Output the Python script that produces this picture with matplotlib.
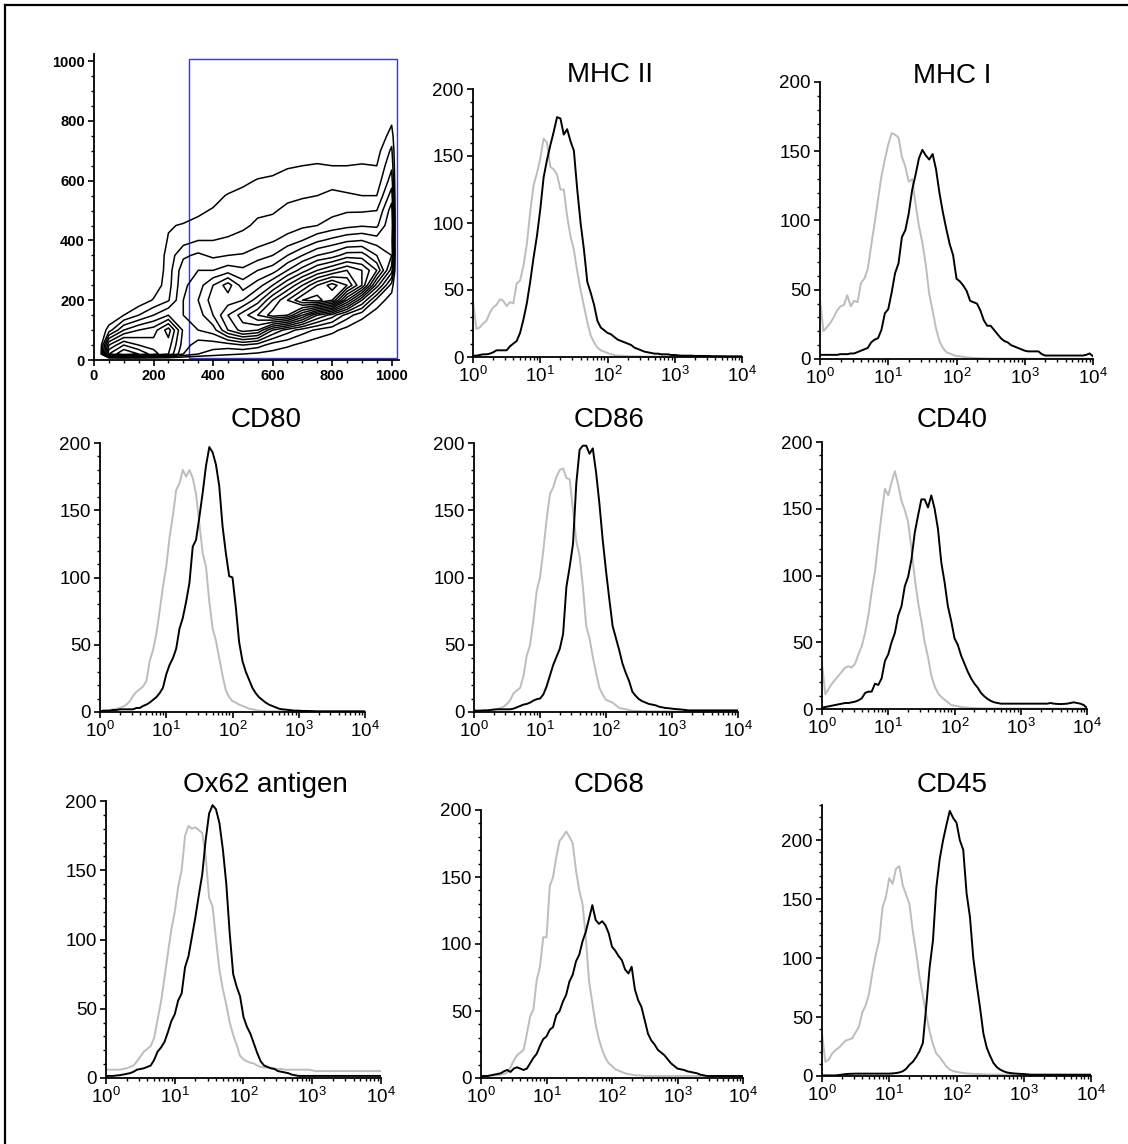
import numpy as np
import matplotlib.pyplot as plt
from matplotlib.lines import Line2D
from matplotlib.patches import Rectangle
from matplotlib.ticker import MultipleLocator, LogLocator, NullFormatter

plt.rcParams['font.family'] = ['Liberation Sans', 'DejaVu Sans']
plt.rcParams['mathtext.default'] = 'regular'

W, H = 1128, 1144

# ---- scatter (FSC / SSC) density, contour index per grid node ----
fsc = [50, 100, 150, 200, 250, 300, 350, 400, 450, 500,
       550, 600, 650, 700, 750, 800, 850, 900, 950, 1000]
ssc = [20, 50, 100, 150, 200, 250, 300, 350, 400, 450,
       500, 550, 600, 650, 700, 750, 800]
dens = [
    [8.0, 10., 9.0, 7.5, 6.0, 3.0, 2.0, 1.5, 1.2, 1.0, 0.8, 0.7, 0.3, 0.0, 0.0, 0.0, 0.0, 0.0, 0.0, 0.0],
    [6.0, 8.0, 7.0, 6.5, 6.5, 3.5, 2.5, 2.5, 2.5, 3.0, 2.5, 1.5, 1.2, 0.7, 0.3, 0.0, 0.0, 0.0, 0.0, 0.0],
    [1.5, 4.0, 5.0, 5.5, 7.5, 3.8, 4.0, 4.5, 7.0, 8.5, 8.0, 5.0, 3.5, 2.5, 1.8, 1.3, 0.6, 0.2, 0.0, 0.0],
    [0.0, 1.0, 2.0, 3.0, 4.0, 4.0, 4.5, 6.0, 8.0, 9.5, 11., 12.5, 12., 9.0, 6.0, 4.5, 2.5, 1.3, 0.5, 0.0],
    [0.0, 0.0, 0.3, 1.1, 1.9, 4.0, 5.0, 6.5, 6.5, 7.0, 8.5, 11., 13., 15., 15.5, 14., 9.0, 5.0, 1.6, 0.5],
    [0.0, 0.0, 0.0, 0.3, 1.6, 3.8, 4.5, 6.0, 7.5, 5.5, 6.5, 8.0, 10., 12., 14., 15.5, 14., 11., 5.5, 1.5],
    [0.0, 0.0, 0.0, 0.0, 1.5, 3.6, 4.0, 4.0, 4.5, 4.2, 5.0, 5.5, 7.0, 8.5, 10., 11., 12., 11., 9.0, 4.5],
    [0.0, 0.0, 0.0, 0.0, 1.4, 2.8, 3.2, 2.8, 3.0, 3.1, 3.5, 4.0, 5.0, 6.0, 7.0, 7.5, 8.5, 8.5, 7.0, 6.0],
    [0.0, 0.0, 0.0, 0.0, 1.1, 1.6, 2.0, 2.0, 2.1, 2.2, 2.6, 2.9, 3.4, 4.0, 4.8, 5.3, 5.8, 6.0, 5.5, 5.5],
    [0.0, 0.0, 0.0, 0.0, 0.9, 1.1, 1.3, 1.5, 1.7, 1.9, 2.1, 2.3, 2.5, 2.8, 3.0, 3.4, 3.7, 3.9, 3.8, 6.0],
    [0.0, 0.0, 0.0, 0.0, 0.0, 0.4, 0.8, 1.1, 1.5, 1.7, 1.9, 1.9, 2.2, 2.4, 2.5, 2.7, 2.9, 2.9, 3.0, 5.5],
    [0.0, 0.0, 0.0, 0.0, 0.0, 0.0, 0.2, 0.6, 1.1, 1.4, 1.6, 1.7, 1.8, 1.9, 2.0, 2.2, 2.1, 2.0, 2.0, 4.5],
    [0.0, 0.0, 0.0, 0.0, 0.0, 0.0, 0.0, 0.0, 0.3, 0.7, 1.1, 1.2, 1.4, 1.5, 1.6, 1.7, 1.6, 1.5, 1.4, 3.5],
    [0.0, 0.0, 0.0, 0.0, 0.0, 0.0, 0.0, 0.0, 0.0, 0.0, 0.3, 0.6, 0.9, 1.0, 1.1, 1.0, 1.0, 1.1, 1.0, 2.8],
    [0.0, 0.0, 0.0, 0.0, 0.0, 0.0, 0.0, 0.0, 0.0, 0.0, 0.0, 0.0, 0.0, 0.3, 0.4, 0.4, 0.4, 0.3, 0.6, 2.2],
    [0.0, 0.0, 0.0, 0.0, 0.0, 0.0, 0.0, 0.0, 0.0, 0.0, 0.0, 0.0, 0.0, 0.0, 0.0, 0.0, 0.0, 0.0, 0.0, 1.5],
    [0.0, 0.0, 0.0, 0.0, 0.0, 0.0, 0.0, 0.0, 0.0, 0.0, 0.0, 0.0, 0.0, 0.0, 0.0, 0.0, 0.0, 0.0, 0.0, 0.8],
]
gate_fsc = [320, 1018]
gate_ssc = [7, 1007]

# ---- histograms: counts every 0.05 decade from 10^0 to 10^4 ----
decades = np.arange(81) * 0.05

mhc2_iso = [42, 21, 22, 25, 27, 33, 37, 39, 43, 42,
            38, 41, 40, 55, 57, 68, 84, 108, 128, 137,
            148, 163, 160, 142, 140, 136, 125, 125, 105, 90,
            80, 64, 50, 38, 26, 16, 11, 7, 5, 4,
            3, 2, 1.5, 1, 1, 0.8, 0.6, 0.5, 0.5, 0.4,
            0.3, 0.3, 0.3, 0.3, 0.3, 0.3, 0.3, 0.3, 0.3, 0.3, 0.3,
            0.2, 0.2, 0.2, 0.2, 0.2, 0.2, 0.2, 0.2, 0.2, 0.2,
            0.2, 0.2, 0.2, 0.2, 0.2, 0.2, 0.2, 0.2, 0.2, 0.2]
mhc2_ab = [1, 1, 1.5, 2, 2, 2.5, 3.5, 5, 5, 5,
           5, 8, 10, 12, 18, 28, 40, 56, 74, 90,
           110, 134, 147, 158, 168, 179, 178, 166, 170, 161,
           154, 125, 100, 80, 56, 48, 39, 27, 22, 20,
           18, 17, 15, 13, 12, 11, 10, 9, 7, 6,
           5, 4, 3.5, 3, 2.5, 2.5, 2, 2, 2, 1.5,
           1.5, 1.2, 1, 1, 1, 1, 0.8, 0.8, 0.8, 0.8,
           0.8, 0.6, 0.6, 0.6, 0.6, 0.5, 0.5, 0.5, 0.5, 0.5, 0.5]

mhc1_iso = [43, 20, 23, 26, 30, 35, 38, 39, 46, 38,
            42, 41, 55, 58, 65, 82, 98, 115, 132, 144,
            155, 163, 162, 160, 146, 139, 128, 130, 112, 96,
            84, 68, 47, 35, 22, 13, 8, 5, 4, 3,
            2, 2, 1.5, 1.2, 1, 0.8, 0.7, 0.6, 0.5, 0.4,
            0.3, 0.3, 0.3, 0.3, 0.3, 0.3, 0.3, 0.3, 0.3, 0.3, 0.3,
            0.2, 0.2, 0.2, 0.2, 0.2, 0.2, 0.2, 0.2, 0.2, 0.2,
            0.2, 0.2, 0.2, 0.2, 0.2, 0.2, 0.2, 0.2, 0.2, 0.2]
mhc1_ab = [3, 3, 3, 3, 3, 3, 3.5, 3.5, 3.5, 4,
           4, 5, 6, 7, 8, 12, 14, 15, 21, 33,
           36, 48, 62, 69, 88, 93, 105, 122, 133, 145,
           151, 147, 144, 148, 137, 120, 106, 94, 83, 75,
           58, 56, 53, 49, 42, 41, 40, 35, 28, 24,
           24, 21, 18, 15, 13, 12, 10, 9, 8, 7,
           6, 5.5, 5.5, 5.5, 5.5, 3.5, 2.5, 2.5, 2.5, 2.5,
           2.5, 2.5, 2.5, 2.5, 2.5, 2.5, 2.5, 2.5, 3, 4, 2]

cd80_iso = [0.5, 1, 1, 1.5, 2, 2.5, 3, 4, 5.5, 8,
            12, 15, 17, 19, 23, 38, 46, 58, 75, 93,
            108, 130, 146, 165, 170, 180, 175, 180, 174, 162,
            140, 118, 108, 82, 62, 53, 40, 27, 16, 11,
            8, 7, 5.5, 4.5, 3.5, 2.5, 2, 1.5, 1, 0.8,
            0.5, 0.5, 0.5, 0.5, 0.5, 0.5, 0.5, 0.5, 0.5, 0.5,
            0.3, 0.3, 0.3, 0.3, 0.3, 0.3, 0.3, 0.3, 0.3, 0.3,
            0.3, 0.3, 0.3, 0.3, 0.3, 0.3, 0.3, 0.3, 0.3, 0.3, 0.3]
cd80_ab = [0.5, 1, 1, 1, 1.5, 1.5, 2, 2, 2, 2,
           2, 3, 3, 4.5, 5.5, 7, 9, 11, 14, 18,
           28, 35, 40, 47, 62, 70, 82, 96, 123, 128,
           145, 163, 183, 197, 193, 184, 168, 138, 118, 101,
           100, 78, 52, 38, 30, 24, 18, 14, 11, 9,
           7, 5.5, 4.5, 3.5, 2.5, 2, 1.8, 1.5, 1.2, 1,
           1, 0.8, 0.8, 0.7, 0.7, 0.5, 0.5, 0.5, 0.5, 0.5,
           0.5, 0.5, 0.5, 0.5, 0.5, 0.5, 0.5, 0.5, 0.5, 0.5, 0.5]

cd86_iso = [0.5, 0.5, 0.8, 1, 1, 1.5, 1.8, 2, 3, 4,
            6, 9, 14, 16, 18, 27, 42, 50, 68, 90,
            100, 120, 143, 162, 167, 175, 180, 181, 174, 173,
            150, 127, 116, 93, 64, 55, 41, 29, 18, 13,
            9, 8, 7, 5, 3, 2.5, 2, 1.5, 1, 0.8,
            0.8, 0.6, 0.5, 0.5, 0.5, 0.5, 0.5, 0.5, 0.5, 0.5,
            0.3, 0.3, 0.3, 0.3, 0.3, 0.3, 0.3, 0.3, 0.3, 0.3,
            0.3, 0.3, 0.3, 0.3, 0.3, 0.3, 0.3, 0.3, 0.3, 0.3, 0.3]
cd86_ab = [1, 1, 1, 1.2, 1.2, 1.5, 1.8, 2, 2, 2,
           2, 2, 2.5, 3.5, 4.5, 5.5, 6, 7, 8.5, 9.5,
           10, 13, 19, 27, 35, 41, 47, 58, 93, 108,
           125, 170, 195, 198, 198, 192, 196, 178, 155, 128,
           105, 84, 64, 55, 46, 36, 29, 23, 15, 12,
           9.5, 8, 7, 6, 5.5, 5, 4, 3.5, 3, 2.8,
           2.5, 2.2, 2, 1.8, 1.5, 1.2, 1.2, 1.2, 1.2, 1.2,
           1.2, 1.2, 1.2, 1.2, 1.2, 1.2, 1.2, 1.2, 1.2, 1.2, 1.2]

cd40_iso = [34, 11, 15, 19, 22, 25, 28, 31, 32, 31,
            34, 41, 47, 57, 70, 88, 103, 125, 146, 165,
            160, 170, 178, 168, 156, 149, 140, 120, 98, 80,
            66, 50, 39, 25, 17, 12, 9, 7, 5, 3,
            2.5, 2, 1.5, 1.2, 1, 0.8, 0.7, 0.6, 0.5, 0.5,
            0.4, 0.4, 0.4, 0.4, 0.4, 0.4, 0.4, 0.4, 0.4, 0.4,
            0.3, 0.3, 0.3, 0.3, 0.3, 0.3, 0.3, 0.3, 0.3, 0.3,
            0.3, 0.3, 0.3, 0.3, 0.3, 0.3, 0.3, 0.3, 0.3, 0.3, 0.3]
cd40_ab = [1, 1.5, 2, 2.5, 3, 3.5, 4, 4.5, 4.5, 5,
           5.5, 6.5, 8, 12, 13, 13, 19, 18, 23, 36,
           41, 50, 57, 70, 77, 92, 99, 112, 132, 145,
           157, 157, 151, 160, 150, 135, 110, 95, 77, 66,
           53, 48, 40, 34, 28, 23, 19, 16, 12, 9.5,
           7.5, 6, 5, 4.5, 4, 4, 4, 4, 4, 4,
           4, 4, 4, 4, 4, 4, 4, 4, 4, 4.5,
           4, 3.8, 3.7, 3.8, 4, 4.5, 5, 4.5, 4, 3, 0.7]

ox62_iso = [6, 6, 6, 6, 6, 6.5, 7, 8, 9, 12,
            15.5, 19, 21, 23, 29, 42, 55, 72, 90, 107,
            120, 138, 150, 175, 182, 180, 181, 179, 177, 160,
            130, 124, 100, 78, 64, 53, 40, 31, 24, 16,
            13.5, 12, 11, 10.5, 9, 8, 7.5, 7.5, 7, 7,
            6.5, 6.5, 6, 6, 6, 6, 6, 6, 6, 6,
            5.5, 5, 5, 5, 5, 5, 5, 5, 5, 5,
            5, 5, 5, 5, 5, 5, 5, 5, 5, 5, 5]
ox62_ab = [1.5, 1.5, 1.5, 1.8, 2, 2.5, 3, 3.5, 4.5, 6,
           6.5, 7, 8, 9, 13, 19, 22, 26, 33, 41,
           46, 56, 61, 80, 88, 102, 116, 132, 147, 172,
           191, 197, 194, 184, 165, 140, 104, 75, 66, 59,
           44, 37, 32, 25, 18, 12, 9, 8, 7, 6.5,
           5, 4.5, 4, 3.5, 2.5, 2, 1.5, 1.5, 1.5, 1.5,
           1.5, 1.5, 1.5, 1.5, 1.5, 1.5, 1.5, 1.5, 1.5, 1.5,
           1.5, 1.5, 1.5, 1.5, 1.5, 1.5, 1.5, 1.5, 1.5, 1.5, 1.5]

cd68_iso = [1.5, 1.5, 1.5, 1.8, 2, 2, 2.5, 3, 4, 8,
            13, 17, 19, 21, 33, 46, 51, 73, 83, 105,
            105, 143, 150, 165, 177, 180, 184, 180, 175, 155,
            140, 130, 105, 72, 56, 40, 29, 21, 15, 11,
            9, 6.5, 5.5, 4.5, 3.5, 3, 2.5, 2, 2, 1.8,
            1.5, 1.5, 1.5, 1.5, 1.5, 1.5, 1.5, 1.5, 1.5, 1.5,
            1.5, 1.5, 1.5, 1.5, 1.5, 1.5, 1.5, 1.5, 1.5, 1.5,
            1.5, 1.5, 1.5, 1.5, 1.5, 1.5, 1.5, 1.5, 1.5, 1.5, 1.5]
cd68_ab = [1.5, 1.5, 1.5, 2, 2.5, 3, 3.5, 5, 6, 4.5,
           7, 8, 7, 6, 7, 11, 15, 18, 24, 29,
           31, 36, 38, 47, 50, 57, 62, 72, 77, 87,
           92, 102, 109, 119, 129, 118, 115, 117, 114, 108,
           98, 95, 91, 88, 81, 78, 83, 66, 58, 53,
           43, 33, 28, 25, 21, 19, 17, 14, 11, 9,
           7, 6.5, 6, 5, 4.5, 4, 3.5, 2.5, 2, 1.5,
           1.5, 1.5, 1.5, 1.5, 1.5, 1.5, 1.5, 1.5, 1.5, 1.5, 1.5]

cd45_iso = [36, 12, 14, 19, 22, 24, 27, 30, 31, 32,
            37, 42, 54, 60, 70, 88, 103, 115, 143, 152,
            168, 163, 176, 178, 162, 154, 146, 123, 105, 84,
            68, 52, 38, 27, 19, 16, 12, 8, 5.5, 4.2,
            3.5, 3, 2.5, 2.2, 2, 1.8, 1.7, 1.6, 1.5, 1.4,
            1.2, 1.2, 1.2, 1.2, 1.2, 1.2, 1.2, 1.2, 1.2, 1.2,
            1, 1, 1, 1, 1, 1, 1, 1, 1, 1,
            1, 1, 1, 1, 1, 1, 1, 1, 1, 1, 1]
cd45_ab = [0.5, 0.5, 0.5, 0.5, 0.5, 0.8, 1.2, 1.6, 1.8, 1.9,
           2, 2, 2, 2, 2, 2, 2, 2, 2, 2,
           2, 2.2, 2.5, 3, 4, 6, 9.5, 12, 16, 21,
           28, 59, 92, 115, 160, 184, 200, 213, 225, 219,
           215, 200, 192, 155, 135, 100, 78, 58, 36, 24,
           17, 11, 7.5, 5.4, 4, 3, 2.5, 2.2, 2, 1.8,
           1.7, 1.4, 1.1, 1.1, 1.1, 1.1, 1.1, 1.1, 1.1, 1.1,
           1.1, 1.1, 1.1, 1.1, 1.1, 1.1, 1.1, 1.1, 1.1, 1.1, 1.1]

titles = ['MHC II', 'MHC I', 'CD80', 'CD86', 'CD40',
          'Ox62 antigen', 'CD68', 'CD45']
iso_curves = [mhc2_iso, mhc1_iso, cd80_iso, cd86_iso, cd40_iso,
              ox62_iso, cd68_iso, cd45_iso]
ab_curves = [mhc2_ab, mhc1_ab, cd80_ab, cd86_ab, cd40_ab,
             ox62_ab, cd68_ab, cd45_ab]
y_tops = [200, 200, 200, 200, 200, 200, 200, 230]

# axes boxes in pixels: left, right, top, bottom
boxes = [(473, 742, 89, 357), (820, 1093, 82, 359),
         (100, 365, 443, 712), (474, 738, 443, 712), (822, 1087, 442, 709),
         (106, 381, 801, 1078), (481, 743, 810, 1078), (822, 1091, 805, 1076)]
# title anchor (centre x, baseline y) in pixels
title_pos = [(610, 82), (952, 83), (266, 427), (609, 427), (952, 427),
             (265, 792), (609, 792), (952, 792)]


def px_rect(l, r, t, b):
    return [l / W, 1 - b / H, (r - l) / W, (b - t) / H]


def style_axes(ax):
    for s in ('top', 'right'):
        ax.spines[s].set_visible(False)
    for s in ('left', 'bottom'):
        ax.spines[s].set_linewidth(1.3)
    ax.tick_params(which='major', direction='out', length=4.5, width=1.2,
                   pad=2, labelsize=13.5, colors='black')
    ax.tick_params(which='minor', direction='out', length=2.5, width=1.0)


fig = plt.figure(figsize=(W / 100, H / 100), dpi=100)

# scatter panel with gate
ax = fig.add_axes(px_rect(94, 398.5, 54, 360))
gx = np.array([20] + fsc + [1014])
gy = np.array([5] + ssc + [850])
z = np.pad(np.array(dens), 1)
ax.contour(gx, gy, z, levels=np.arange(1, 17), colors='black', linewidths=1.1)
ax.add_patch(Rectangle((gate_fsc[0], gate_ssc[0]), gate_fsc[1] - gate_fsc[0],
                       gate_ssc[1] - gate_ssc[0], fill=False,
                       edgecolor='#3535ee', linewidth=1.0))
ax.set_xlim(0, 1023)
ax.set_ylim(0, 1024)
style_axes(ax)
ax.xaxis.set_major_locator(MultipleLocator(200))
ax.xaxis.set_minor_locator(MultipleLocator(50))
ax.yaxis.set_major_locator(MultipleLocator(200))
ax.yaxis.set_minor_locator(MultipleLocator(50))
ax.tick_params(which='major', labelsize=10.5)
for lab in ax.get_xticklabels() + ax.get_yticklabels():
    lab.set_fontweight('bold')

# histogram panels
channel = 10 ** decades
for box, tpos, name, iso, ab, top in zip(boxes, title_pos, titles,
                                          iso_curves, ab_curves, y_tops):
    ax = fig.add_axes(px_rect(*box))
    ax.plot(channel, iso, color='#bdbdbd', linewidth=1.4)
    ax.plot(channel, ab, color='black', linewidth=1.4)
    ax.set_xscale('log')
    ax.set_xlim(1, 1e4)
    ax.set_ylim(0, top)
    style_axes(ax)
    ax.xaxis.set_major_locator(LogLocator(base=10, numticks=10))
    ax.xaxis.set_minor_locator(LogLocator(base=10, subs=np.arange(2, 10), numticks=20))
    ax.xaxis.set_minor_formatter(NullFormatter())
    ax.yaxis.set_major_locator(MultipleLocator(50))
    ax.yaxis.set_minor_locator(MultipleLocator(10))
    fig.text(tpos[0] / W, 1 - tpos[1] / H, name, ha='center', va='baseline',
             fontsize=20)

# frame lines on the top and left edges
fig.add_artist(Line2D([5 / W, 1], [1 - 5 / H, 1 - 5 / H], color='black', linewidth=1.6))
fig.add_artist(Line2D([5 / W, 5 / W], [0, 1 - 5 / H], color='black', linewidth=1.6))

fig.savefig('out.png', dpi=100)
